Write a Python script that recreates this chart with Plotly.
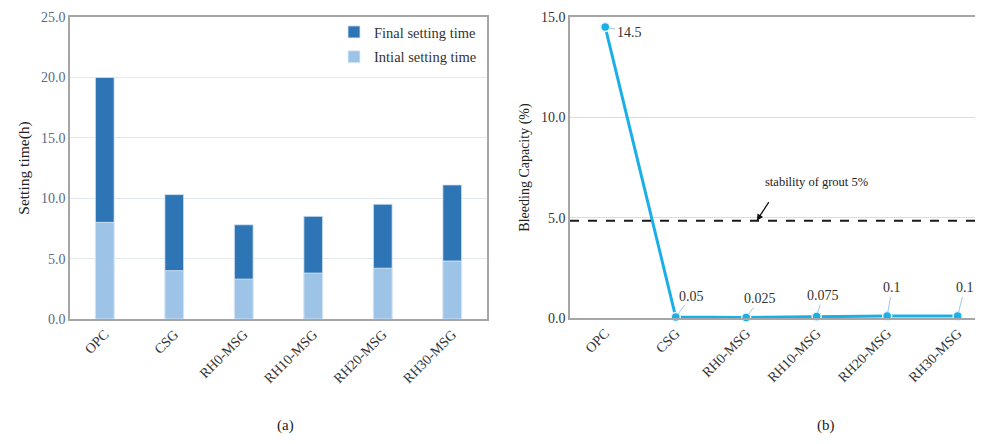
import plotly.graph_objects as go

categories = ["OPC", "CSG", "RH0-MSG", "RH10-MSG", "RH20-MSG", "RH30-MSG"]
final_setting = [20.0, 10.3, 7.8, 8.5, 9.5, 11.1]
initial_setting = [8.0, 4.0, 3.3, 3.8, 4.2, 4.8]
bleeding = [14.5, 0.05, 0.025, 0.075, 0.1, 0.1]
bleed_labels = [f"{v:g}" for v in bleeding]
stability_limit = 4.85

FONT = "Liberation Serif, Times New Roman, serif"
OFF = 8  # page body margin
W, H = 983 - OFF, 444 - OFF

fig = go.Figure()

fig.add_trace(go.Bar(
    x=categories, y=final_setting, name="Final setting time",
    marker=dict(color="#2E75B6", line=dict(width=0.8, color="#dbe7f4")),
    width=0.27, xaxis="x", yaxis="y", legendgroup="a",
))
fig.add_trace(go.Bar(
    x=categories, y=initial_setting, name="Intial setting time",
    marker=dict(color="#9DC3E6", line=dict(width=0.8, color="#e3eef9")),
    width=0.27, xaxis="x", yaxis="y", legendgroup="b",
))

fig.add_trace(go.Scatter(
    x=categories, y=bleeding, mode="lines+markers",
    line=dict(color="#1AAFE6", width=3),
    marker=dict(size=9, color="#1AAFE6", line=dict(color="#e8f4fb", width=1.5)),
    xaxis="x2", yaxis="y2", showlegend=False, cliponaxis=False,
))

def px_x(p):
    return (p - OFF) / W

def px_y(p):
    return 1 - (p - OFF) / H

fig.update_layout(
    width=W, height=H,
    margin=dict(l=0, r=0, t=0, b=0, autoexpand=False),
    paper_bgcolor="white", plot_bgcolor="white",
    font=dict(family=FONT, size=13, color="#333333"),
    barmode="overlay",
    showlegend=True,
    legend=dict(
        x=px_x(334), y=px_y(16), xanchor="left", yanchor="top",
        bgcolor="rgba(0,0,0,0)", font=dict(family=FONT, size=14.5, color="#333333"),
        traceorder="grouped", tracegroupgap=3, itemwidth=30,
    ),
    xaxis=dict(
        domain=[px_x(70), px_x(487)], anchor="y", automargin=False,
        type="category", tickangle=-45,
        showline=True, linecolor="#a6a6a6", linewidth=1.5, mirror=True,
        ticks="", tickfont=dict(family=FONT, size=14, color="#333333"),
        showgrid=False,
    ),
    yaxis=dict(
        domain=[px_y(319), px_y(17)], anchor="x", automargin=False,
        range=[0, 25], dtick=5, tickformat=".1f",
        showline=True, linecolor="#a6a6a6", linewidth=1.5, mirror=True,
        gridcolor="#e4e9f1", gridwidth=1, zeroline=False,
        ticks="", ticklen=0, tickfont=dict(family=FONT, size=14, color="#5a6a88"),
        title=dict(text="Setting time(h)", font=dict(family=FONT, size=15.5, color="#222222"), standoff=8),
    ),
    xaxis2=dict(
        domain=[px_x(570), 1.0], anchor="y2", automargin=False,
        type="category", range=[-0.5, 5.36], tickangle=-45,
        showline=True, linecolor="#a6a6a6", linewidth=1.5, mirror=True,
        ticks="", tickfont=dict(family=FONT, size=14, color="#333333"),
        showgrid=False,
    ),
    yaxis2=dict(
        domain=[px_y(318), px_y(17)], anchor="x2", automargin=False,
        range=[0, 15], dtick=5, tickformat=".1f",
        showline=True, linecolor="#a6a6a6", linewidth=1.5, mirror=True,
        gridcolor="#cfe0f3", gridwidth=1, zeroline=False,
        ticks="", tickfont=dict(family=FONT, size=14, color="#333333"),
        title=dict(text="Bleeding Capacity (%)", font=dict(family=FONT, size=14, color="#222222"), standoff=8),
    ),
)

# stability threshold dashed line
fig.add_shape(type="line", xref="x2 domain", yref="y2", x0=0, x1=1,
              y0=stability_limit, y1=stability_limit,
              line=dict(color="#1a1a1a", width=2, dash="dash"))

# arrow to threshold line
fig.add_annotation(x=2.15, y=stability_limit, xref="x2", yref="y2",
                   text="", showarrow=True, ax=13, ay=-20,
                   arrowhead=2, arrowsize=1, arrowwidth=1.3, arrowcolor="#111111")
fig.add_annotation(x=3.0, y=6.8, xref="x2", yref="y2",
                   text="stability of grout 5%", showarrow=False,
                   font=dict(family=FONT, size=12.5, color="#222222"))

# data labels with leader lines
offsets = [(24, 5), (16, -21), (14, -19), (6, -21), (5, -28), (7, -28)]
for cat, val, lab, (dx, dy) in zip(categories, bleeding, bleed_labels, offsets):
    fig.add_annotation(x=cat, y=val, xref="x2", yref="y2", text=lab,
                       showarrow=True, ax=dx, ay=dy, arrowhead=0,
                       arrowwidth=1, arrowcolor="#9ec9ee", standoff=4,
                       font=dict(family=FONT, size=14, color="#333333"))

fig.add_annotation(x=px_x(275), y=px_y(436), xref="paper", yref="paper",
                   text="(a)", showarrow=False,
                   font=dict(family=FONT, size=15, color="#222222"))
fig.add_annotation(x=px_x(837), y=px_y(436), xref="paper", yref="paper",
                   text="(b)", showarrow=False,
                   font=dict(family=FONT, size=15, color="#222222"))

fig.write_html("out.html")
